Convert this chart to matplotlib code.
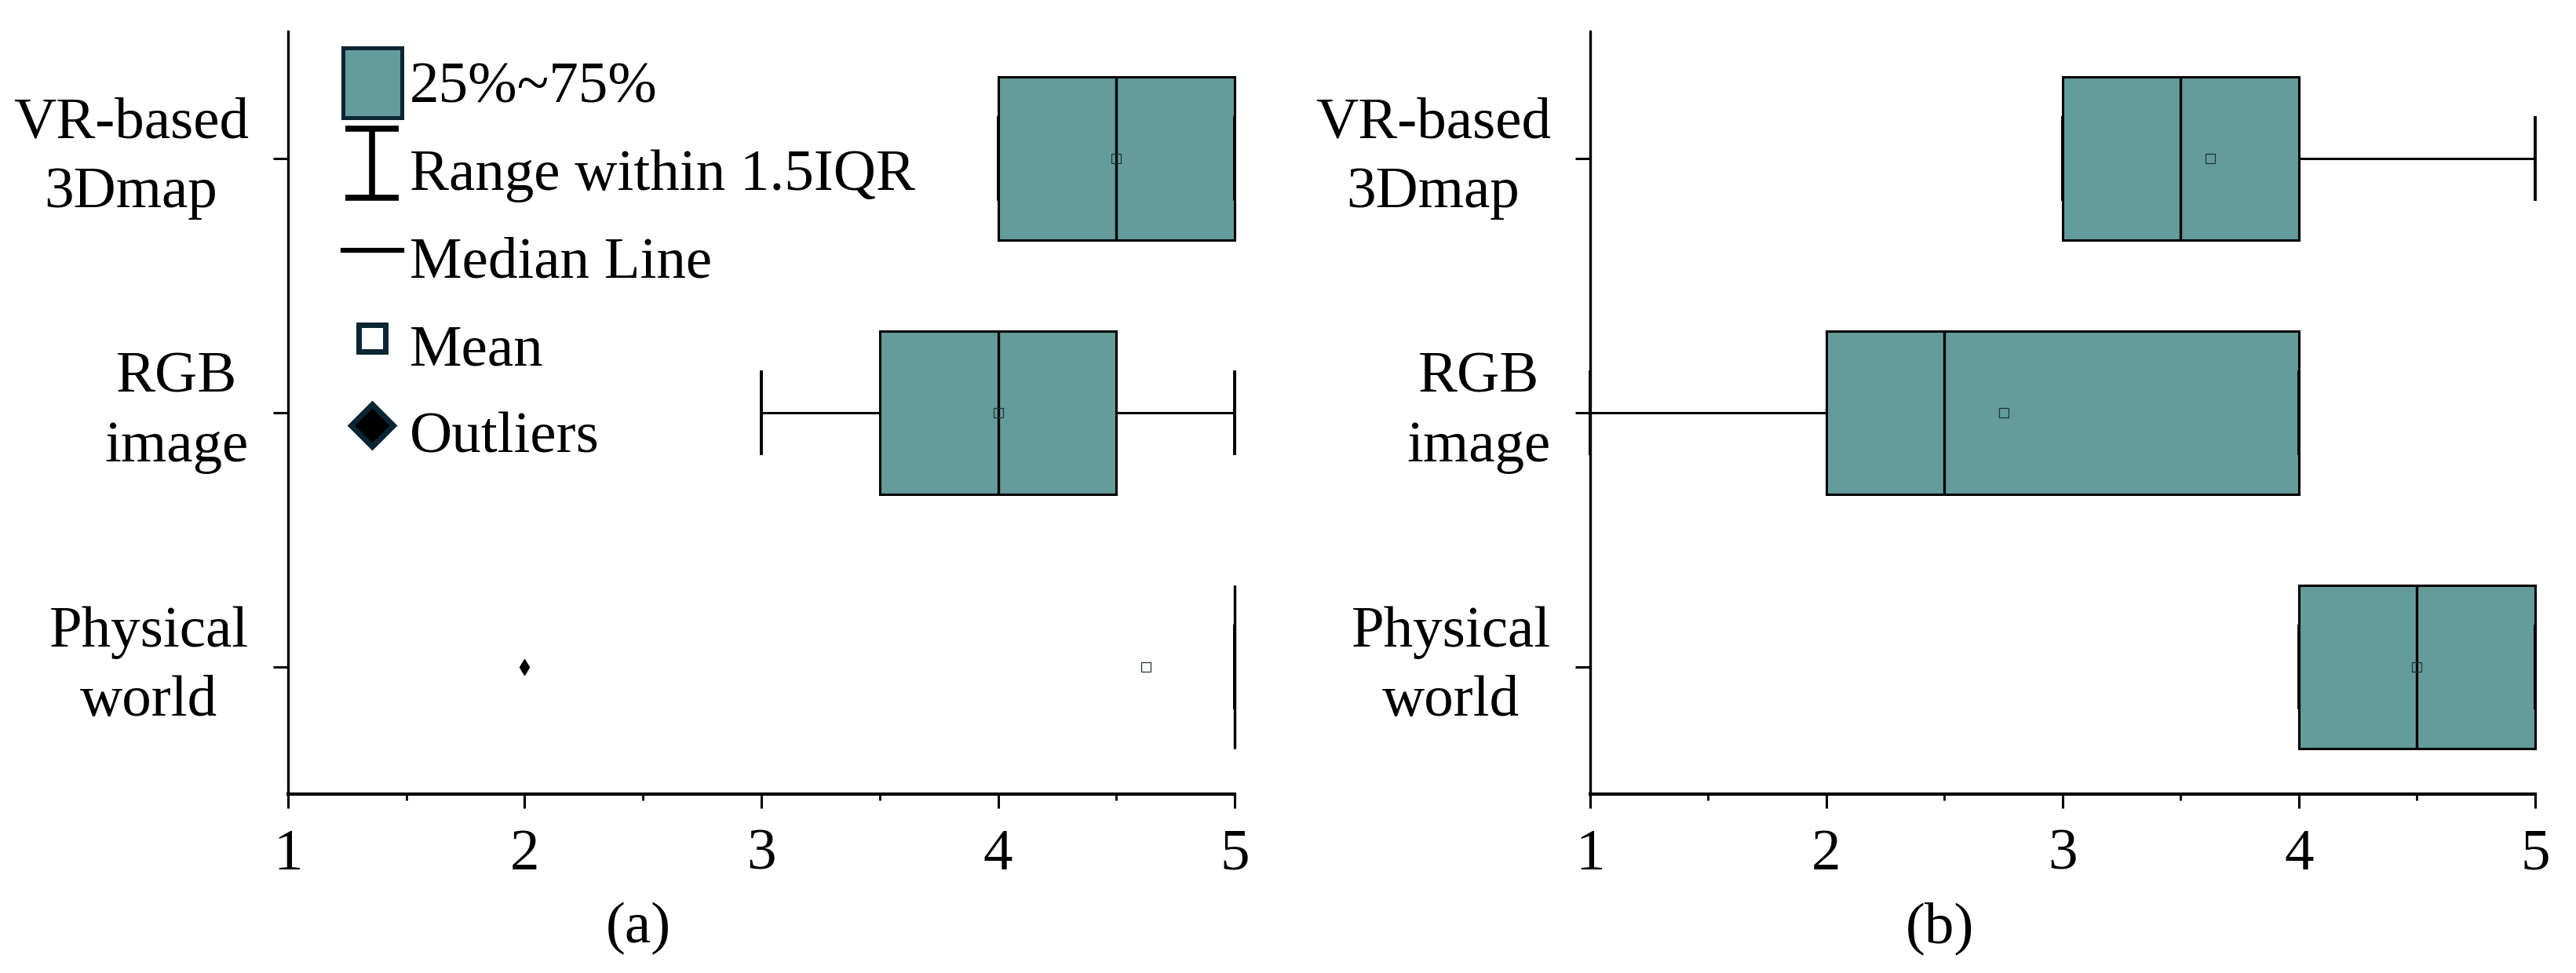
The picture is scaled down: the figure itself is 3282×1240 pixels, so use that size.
import matplotlib
matplotlib.use('Agg')
import matplotlib.pyplot as plt
from matplotlib.patches import Patch
from matplotlib.lines import Line2D
from matplotlib.path import Path

plt.rcParams['font.family'] = ['Liberation Serif', 'DejaVu Serif']

# ---------------- data ----------------
categories = ['Physical\nworld', 'RGB\nimage', 'VR-based\n3Dmap']
positions = [1, 2, 3]

# panel (a)
a_q1 = [5.0, 3.5, 4.0]
a_med = [5.0, 4.0, 4.5]
a_q3 = [5.0, 4.5, 5.0]
a_whislo = [5.0, 3.0, 4.0]
a_whishi = [5.0, 5.0, 5.0]
a_mean = [4.625, 4.0, 4.5]
a_fliers = [[2.0], [], []]

# panel (b)
b_q1 = [4.0, 2.0, 3.0]
b_med = [4.5, 2.5, 3.5]
b_q3 = [5.0, 4.0, 4.0]
b_whislo = [4.0, 1.0, 3.0]
b_whishi = [5.0, 4.0, 5.0]
b_mean = [4.5, 2.75, 3.625]
b_fliers = [[], [], []]

panel_labels = ['(a)', '(b)']
xticks_major = [1, 2, 3, 4, 5]
xticks_minor = [1.5, 2.5, 3.5, 4.5]
legend_labels = ['25%~75%', 'Range within 1.5IQR', 'Median Line', 'Mean', 'Outliers']

# ---------------- style ----------------
BOX_COLOR = '#639c9b'
DARK = '#0b2533'
FS = 54


def make_stats(q1, med, q3, lo, hi, mean, fliers):
    return [dict(q1=q1[i], med=med[i], q3=q3[i], whislo=lo[i], whishi=hi[i],
                 mean=mean[i], fliers=fliers[i], label='') for i in range(len(q1))]


fig = plt.figure(figsize=(32.82, 12.40), dpi=100)
ax_a = fig.add_axes([0.1118, 0.1839, 0.3675, 0.7839])
ax_b = fig.add_axes([0.6173, 0.1839, 0.3668, 0.7839])

panels = [
    (ax_a, make_stats(a_q1, a_med, a_q3, a_whislo, a_whishi, a_mean, a_fliers)),
    (ax_b, make_stats(b_q1, b_med, b_q3, b_whislo, b_whishi, b_mean, b_fliers)),
]

for (ax, stats), plabel in zip(panels, panel_labels):
    art = ax.bxp(stats, positions=positions, widths=0.64, orientation='horizontal',
                 patch_artist=True, showmeans=True, showfliers=True, capwidths=0.32,
                 manage_ticks=False,
                 boxprops=dict(facecolor=BOX_COLOR, edgecolor='black', linewidth=2.2),
                 medianprops=dict(color='black', linewidth=2.4),
                 whiskerprops=dict(color='black', linewidth=2.2),
                 capprops=dict(color='black', linewidth=2.8),
                 meanprops=dict(marker='s', markersize=8, markerfacecolor='none',
                                markeredgecolor='#22343a', markeredgewidth=0.9),
                 flierprops=dict(marker='d', markersize=10, markerfacecolor='black',
                                 markeredgecolor='black'))
    for key in art:
        for a in art[key]:
            a.set_clip_on(False)

    ax.set_xlim(1, 5)
    ax.set_ylim(0.5, 3.5)
    ax.set_xticks(xticks_major)
    ax.set_xticks(xticks_minor, minor=True)
    ax.set_xticklabels([str(t) for t in xticks_major])
    ax.set_yticks(positions)
    ax.set_yticklabels(categories, ha='right', va='center', multialignment='center',
                       linespacing=1.4)
    ax.tick_params(axis='x', which='major', direction='out', length=13, width=2.2,
                   pad=19, labelsize=FS)
    ax.tick_params(axis='x', which='minor', direction='out', length=6, width=2.0)
    ax.tick_params(axis='y', which='major', direction='out', length=14, width=2.2,
                   pad=22, labelsize=FS)
    ax.tick_params(axis='y', which='minor', left=False)
    for s in ['top', 'right']:
        ax.spines[s].set_visible(False)
    ax.spines['left'].set_linewidth(2.4)
    ax.spines['bottom'].set_linewidth(3.0)

    ax.set_xlabel(plabel, fontsize=FS)
    ax.xaxis.set_label_coords(0.37, -0.176)
    ax.xaxis.label.set_va('center')

# ---------------- legend in panel (a) ----------------
ibar = Path([(-0.385, 0.5), (0.385, 0.5), (0.0, 0.5), (0.0, -0.5),
             (-0.385, -0.5), (0.385, -0.5)],
            [Path.MOVETO, Path.LINETO, Path.MOVETO, Path.LINETO,
             Path.MOVETO, Path.LINETO])

handles = [
    Patch(facecolor=BOX_COLOR, edgecolor=DARK, linewidth=3.6),
    Line2D([], [], linestyle='None', marker=ibar, markersize=64,
           markerfacecolor='none', markeredgecolor='black', markeredgewidth=5.5),
    Line2D([], [], color='black', linewidth=4.5),
    Line2D([], [], linestyle='None', marker='s', markersize=24,
           markerfacecolor='white', markeredgecolor=DARK, markeredgewidth=5),
    Line2D([], [], linestyle='None', marker='D', markersize=27,
           markerfacecolor='black', markeredgecolor=DARK, markeredgewidth=5),
]
ax_a.legend(handles, legend_labels, loc='upper left', bbox_to_anchor=(0.058, 0.978),
            frameon=False, fontsize=FS, handlelength=1.0, handleheight=1.45,
            handletextpad=0.13, labelspacing=0.30, borderpad=0, borderaxespad=0,
            numpoints=1)

fig.savefig('out.png', dpi=100)
